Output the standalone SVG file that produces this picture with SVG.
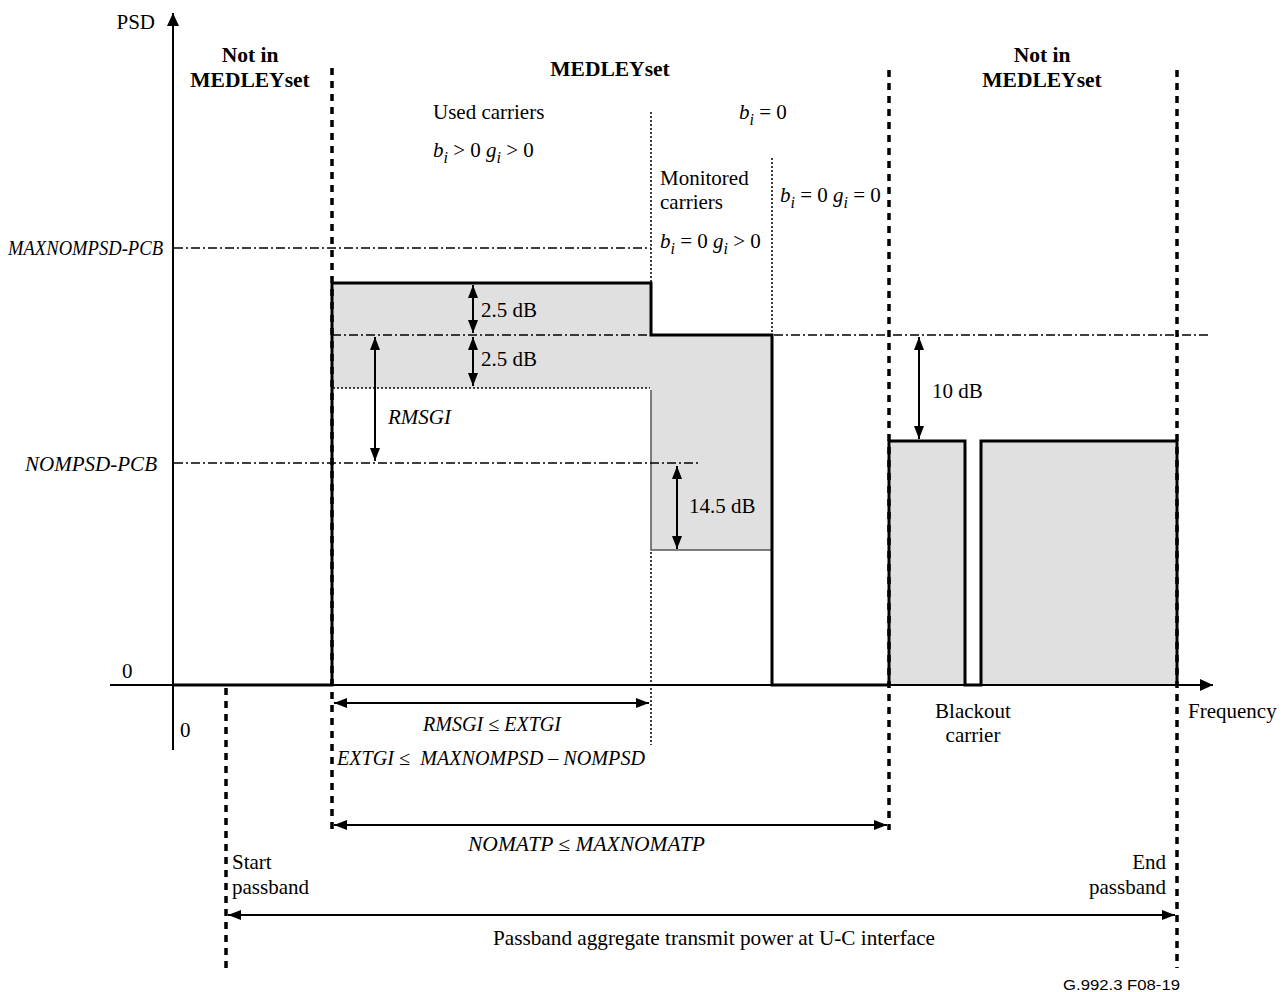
<svg xmlns="http://www.w3.org/2000/svg" width="1287" height="992" viewBox="0 0 1287 992">
<style>
text{font-family:"Liberation Serif","Times New Roman",serif;font-size:21px;fill:#000}
.b{font-weight:bold;font-size:21.5px}
.it{font-style:italic;font-size:20px}
.rm{font-style:normal}
.sub{font-size:16px;font-style:italic}
.thick{stroke:#000;stroke-width:3;fill:none}
.axis{stroke:#000;stroke-width:2;fill:none}
.dash{stroke:#000;stroke-width:3.5;stroke-dasharray:7 6;fill:none}
.dot{stroke:#000;stroke-width:1.5;stroke-dasharray:2 2;fill:none}
.dd{stroke:#000;stroke-width:1.3;stroke-dasharray:9 3 2 3;fill:none}
.arr{stroke:#000;stroke-width:2;fill:none;marker-start:url(#ah);marker-end:url(#ah)}
.gray{fill:#e0e0e0;stroke:none}
</style>
<defs>
<marker id="ah" viewBox="0 0 13 10" refX="13" refY="5" markerWidth="13" markerHeight="10" markerUnits="userSpaceOnUse" orient="auto-start-reverse">
<path d="M0,0 L13,5 L0,10 z" fill="#000"/>
</marker>
<marker id="ahb" viewBox="0 0 13 12" refX="13" refY="6" markerWidth="13" markerHeight="12" markerUnits="userSpaceOnUse" orient="auto">
<path d="M0,0 L13,6 L0,12 z" fill="#000"/>
</marker>
</defs>
<rect width="1287" height="992" fill="#fff"/>

<g id="fills">
<polygon class="gray" points="332,283 651,283 651,335 772,335 772,550 651,550 651,388 332,388"/>
<rect class="gray" x="889" y="441" width="76" height="244"/>
<rect class="gray" x="981" y="441" width="196" height="244"/>
<path d="M651,390 V550 H772" stroke="#555" stroke-width="1.5" fill="none"/>
</g>

<g id="reference-lines">
<line class="dd" x1="174" y1="248" x2="651" y2="248"/>
<line class="dd" x1="332" y1="335" x2="1210" y2="335"/>
<line class="dd" x1="174" y1="463" x2="700" y2="463"/>
<line class="dot" x1="333" y1="388" x2="650" y2="388"/>
<line class="dot" x1="651" y1="112" x2="651" y2="283"/>
<line class="dot" x1="651" y1="552" x2="651" y2="745"/>
<line class="dot" x1="772" y1="158" x2="772" y2="335"/>
<line class="dash" x1="332" y1="68" x2="332" y2="830"/>
<line class="dash" x1="889" y1="70" x2="889" y2="830"/>
<line class="dash" x1="1177" y1="70" x2="1177" y2="968"/>
<line class="dash" x1="226" y1="688" x2="226" y2="968"/>
</g>

<g id="axes">
<line class="axis" x1="173" y1="750" x2="173" y2="13" marker-end="url(#ahb)"/>
<line class="axis" x1="110" y1="685" x2="1213" y2="685" marker-end="url(#ahb)"/>
</g>

<g id="psd">
<polyline class="thick" points="173,685 332,685 332,283 651,283 651,335 772,335 772,685 889,685 889,441 965,441 965,685 981,685 981,441 1177,441 1177,685"/>
</g>

<g id="connectors">
<line class="arr" x1="473" y1="285" x2="473" y2="333"/>
<line class="arr" x1="473" y1="337" x2="473" y2="386"/>
<line class="arr" x1="375" y1="337" x2="375" y2="461"/>
<line class="arr" x1="677" y1="466" x2="677" y2="549"/>
<line class="arr" x1="919" y1="337" x2="919" y2="439"/>
<line class="arr" x1="334" y1="703" x2="649" y2="703"/>
<line class="arr" x1="334" y1="825" x2="887" y2="825"/>
<line class="arr" x1="228" y1="915" x2="1175" y2="915"/>
</g>

<g id="labels">
<text x="155" y="29" text-anchor="end">PSD</text>
<text x="250" y="62" text-anchor="middle" class="b">Not in</text>
<text x="250" y="87" text-anchor="middle" class="b">MEDLEYset</text>
<text x="610" y="76" text-anchor="middle" class="b">MEDLEYset</text>
<text x="1042" y="62" text-anchor="middle" class="b">Not in</text>
<text x="1042" y="87" text-anchor="middle" class="b">MEDLEYset</text>

<text x="433" y="119">Used carriers</text>
<text x="433" y="157" class="it" style="font-size:21px">b<tspan class="sub" dy="6">i</tspan><tspan class="rm" dy="-6"> &gt; 0 </tspan>g<tspan class="sub" dy="6">i</tspan><tspan class="rm" dy="-6"> &gt; 0</tspan></text>
<text x="739" y="119" class="it" style="font-size:21px">b<tspan class="sub" dy="6">i</tspan><tspan class="rm" dy="-6"> = 0</tspan></text>
<text x="660" y="185">Monitored</text>
<text x="660" y="209">carriers</text>
<text x="660" y="248" class="it" style="font-size:21px">b<tspan class="sub" dy="6">i</tspan><tspan class="rm" dy="-6"> = 0 </tspan>g<tspan class="sub" dy="6">i</tspan><tspan class="rm" dy="-6"> &gt; 0</tspan></text>
<text x="780" y="202" class="it" style="font-size:21px">b<tspan class="sub" dy="6">i</tspan><tspan class="rm" dy="-6"> = 0 </tspan>g<tspan class="sub" dy="6">i</tspan><tspan class="rm" dy="-6"> = 0</tspan></text>

<text x="8" y="255" class="it" textLength="155" lengthAdjust="spacingAndGlyphs">MAXNOMPSD-PCB</text>
<text x="25" y="471" class="it" textLength="132" lengthAdjust="spacingAndGlyphs">NOMPSD-PCB</text>
<text x="122" y="678">0</text>
<text x="180" y="737">0</text>

<text x="481" y="317">2.5 dB</text>
<text x="481" y="366">2.5 dB</text>
<text x="388" y="424" class="it" style="font-size:21px">RMSGI</text>
<text x="689" y="513">14.5 dB</text>
<text x="932" y="398">10 dB</text>

<text x="973" y="718" text-anchor="middle">Blackout</text>
<text x="973" y="742" text-anchor="middle">carrier</text>
<text x="1188" y="718">Frequency</text>

<text x="423" y="731" class="it" textLength="138" lengthAdjust="spacingAndGlyphs">RMSGI ≤ EXTGI</text>
<text x="337" y="765" class="it" textLength="308" lengthAdjust="spacingAndGlyphs">EXTGI ≤&#160; MAXNOMPSD – NOMPSD</text>
<text x="468" y="851" class="it" textLength="237" lengthAdjust="spacingAndGlyphs">NOMATP ≤ MAXNOMATP</text>

<text x="232" y="869">Start</text>
<text x="232" y="894">passband</text>
<text x="1166" y="869" text-anchor="end">End</text>
<text x="1166" y="894" text-anchor="end">passband</text>
<text x="493" y="945" textLength="442" lengthAdjust="spacingAndGlyphs">Passband aggregate transmit power at U-C interface</text>
<text x="1063" y="990" textLength="117" lengthAdjust="spacingAndGlyphs" style="font-family:'Liberation Sans',Arial,sans-serif;font-size:15px">G.992.3  F08-19</text>
</g>
</svg>
